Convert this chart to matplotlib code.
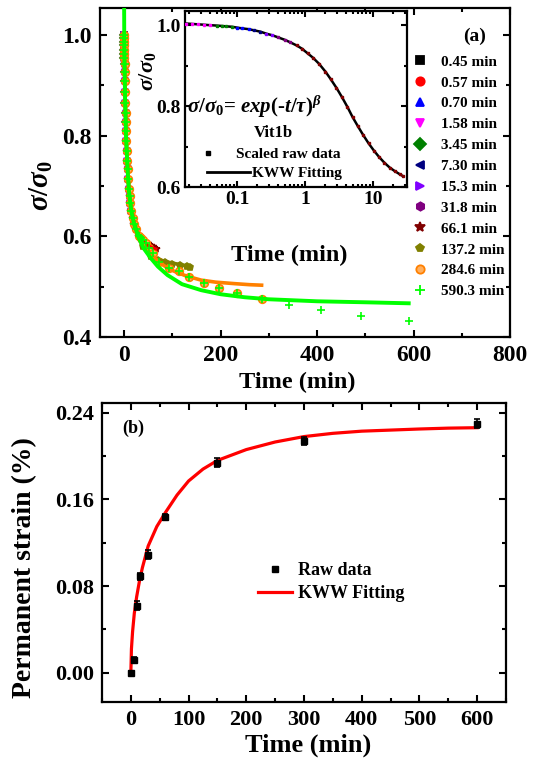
import matplotlib
matplotlib.use('Agg')
import matplotlib.pyplot as plt
from matplotlib.lines import Line2D
from matplotlib.ticker import MultipleLocator, LogLocator, NullFormatter

plt.rcParams['font.family'] = ['Liberation Serif', 'DejaVu Serif']
plt.rcParams['font.weight'] = 'bold'
plt.rcParams['mathtext.fontset'] = 'custom'
plt.rcParams['mathtext.rm'] = 'Liberation Serif:bold'
plt.rcParams['mathtext.it'] = 'Liberation Serif:bold:italic'
plt.rcParams['mathtext.bf'] = 'Liberation Serif:bold'
plt.rcParams['axes.linewidth'] = 1.6

# ---------------- data: panel (a) ----------------
series_labels = ['0.45 min', '0.57 min', '0.70 min', '1.58 min', '3.45 min', '7.30 min',
                 '15.3 min', '31.8 min', '66.1 min', '137.2 min', '284.6 min', '590.3 min']
series_durations = [0.45, 0.57, 0.70, 1.58, 3.45, 7.30, 15.3, 31.8, 66.1, 137.2, 284.6, 590.3]

# common early relaxation (min, sigma/sigma0)
early_t = [0, 0.1, 0.2, 0.3, 0.45, 0.57, 0.7, 0.9, 1.2, 1.58, 2.0, 2.5, 3.0, 3.45, 4.0, 4.7,
           5.5, 6.4, 7.3, 8.5, 10, 11.5, 13, 15.3, 18, 21, 25, 31.8]
early_y = [1.0, 0.994, 0.987, 0.98, 0.97, 0.962, 0.955, 0.943, 0.927, 0.908, 0.888, 0.866,
           0.845, 0.828, 0.81, 0.79, 0.77, 0.75, 0.733, 0.715, 0.695, 0.68, 0.667, 0.65,
           0.637, 0.625, 0.614, 0.60]

tail_661_t = [36, 41, 46, 51, 56, 61, 66]
tail_661_y = [0.595, 0.590, 0.586, 0.583, 0.580, 0.577, 0.575]
tail_1372_t = [40, 55, 70, 85, 100, 115, 130, 137]
tail_1372_y = [0.580, 0.562, 0.553, 0.549, 0.546, 0.543, 0.541, 0.540]
tail_2846_t = [35, 40, 45, 52, 60, 72, 93, 114, 134, 165, 196, 234, 286]
tail_2846_y = [0.597, 0.592, 0.586, 0.577, 0.566, 0.550, 0.538, 0.532, 0.520, 0.507, 0.497, 0.487, 0.475]
tail_5903_t = [35, 40, 45, 52, 60, 72, 93, 114, 134, 165, 196, 234, 286, 342, 409, 492, 590]
tail_5903_y = [0.597, 0.592, 0.586, 0.577, 0.566, 0.550, 0.538, 0.532, 0.520, 0.507, 0.497, 0.487,
               0.475, 0.4636, 0.4537, 0.4424, 0.432]

# KWW fits drawn in panel (a)
fit_661_t = [0, 2, 5, 10, 15, 20, 25, 30, 35, 41, 48, 55, 60, 66]
fit_661_y = [1.0, 0.885, 0.78, 0.695, 0.655, 0.632, 0.615, 0.604, 0.596, 0.589, 0.583, 0.579, 0.577, 0.575]
fit_1372_t = [0, 2, 5, 10, 15, 20, 30, 40, 50, 62, 75, 90, 105, 120, 138]
fit_1372_y = [1.0, 0.88, 0.775, 0.69, 0.65, 0.625, 0.598, 0.58, 0.567, 0.556, 0.553, 0.549, 0.546, 0.543, 0.540]
fit_2846_t = [0, 2, 5, 10, 15, 20, 30, 45, 60, 75, 90, 110, 130, 160, 190, 230, 260, 285]
fit_2846_y = [1.0, 0.88, 0.775, 0.69, 0.65, 0.627, 0.60, 0.575, 0.56, 0.547, 0.537, 0.528, 0.521,
              0.513, 0.509, 0.506, 0.504, 0.503]
fit_5903_t = [0, 0.3, 1, 2, 4, 7, 10, 15, 20, 30, 40, 55, 70, 90, 120, 160, 200, 250, 300, 400, 500, 590]
fit_5903_y = [1.08, 0.985, 0.93, 0.875, 0.80, 0.735, 0.69, 0.65, 0.628, 0.598, 0.577, 0.557, 0.54,
              0.523, 0.505, 0.493, 0.485, 0.479, 0.475, 0.471, 0.469, 0.467]

# inset: scaled data and KWW fit
inset_t = [0.018, 0.022, 0.027, 0.033, 0.04, 0.05, 0.06, 0.07, 0.085, 0.1, 0.12, 0.15, 0.18,
           0.22, 0.27, 0.33, 0.4, 0.5, 0.6, 0.75, 0.9, 1.1, 1.3, 1.6, 2.0, 2.4, 2.9, 3.5,
           4.2, 5.0, 6.0, 7.2, 8.6, 10.3, 12.3, 14.7, 17.6, 21, 25, 27.5]
inset_y = [1.004, 1.003, 1.002, 1.001, 1.0, 0.999, 0.998, 0.997, 0.996, 0.994, 0.992, 0.99,
           0.987, 0.984, 0.979, 0.975, 0.970, 0.964, 0.958, 0.950, 0.942, 0.930, 0.920,
           0.905, 0.885, 0.866, 0.845, 0.822, 0.798, 0.773, 0.750, 0.728, 0.708, 0.690,
           0.674, 0.660, 0.648, 0.639, 0.631, 0.627]
inset_group = [3, 3, 3, 3, 3, 4, 4, 4, 4, 2, 2, 2, 5, 5, 6, 6, 7, 7, 7, 8, 8, 8, 8, 8, 8, 8,
               8, 8, 8, 8, 8, 8, 8, 8, 8, 8, 8, 8, 8, 8]

# ---------------- data: panel (b) ----------------
strain_t = [0, 5, 10, 15, 30, 60, 150, 300, 600]
strain_y = [0.0, 0.012, 0.062, 0.089, 0.109, 0.144, 0.194, 0.214, 0.230]
strain_err = [0.002, 0.003, 0.004, 0.003, 0.004, 0.003, 0.004, 0.004, 0.004]
kww_t = [0, 1, 3, 6, 10, 15, 20, 30, 45, 60, 80, 100, 125, 150, 200, 250, 300, 350, 400,
         450, 500, 550, 600]
kww_y = [0.0, 0.022, 0.038, 0.055, 0.07, 0.085, 0.097, 0.117, 0.135, 0.148, 0.164, 0.177,
         0.188, 0.196, 0.206, 0.213, 0.218, 0.221, 0.223, 0.224, 0.225, 0.2258, 0.2262]

# ---------------- styles ----------------
colors = ['#000000', '#FF0000', '#0000FF', '#FF00FF', '#008000', '#000080',
          '#8000FF', '#800080', '#800000', '#808000', '#FF8000', '#00FF00']
markers = ['s', 'o', '^', 'v', 'D', '<', '>', 'h', '*', 'p', 'o', '+']
tails = {66.1: (tail_661_t, tail_661_y), 137.2: (tail_1372_t, tail_1372_y),
         284.6: (tail_2846_t, tail_2846_y), 590.3: (tail_5903_t, tail_5903_y)}

W, H = 536, 763
fig = plt.figure(figsize=(W / 100, H / 100), dpi=100)


def fr(l, t, r, b):
    return [l / W, 1 - b / H, (r - l) / W, (b - t) / H]


def style_ticks(ax, size, major=5, minor=3):
    ax.tick_params(which='both', direction='in', top=True, right=True, width=1.5)
    ax.tick_params(which='major', length=major, labelsize=size, pad=6)
    ax.tick_params(which='minor', length=minor)
    for lab in ax.get_xticklabels() + ax.get_yticklabels():
        lab.set_fontweight('bold')


# ---------------- panel (a) ----------------
ax = fig.add_axes(fr(100, 8, 510, 337))
ax.set_xlim(-50, 800)
ax.set_ylim(0.4, 1.054)

handles = []
for i, (lab, dur) in enumerate(zip(series_labels, series_durations)):
    t = [x for x in early_t if x <= dur]
    y = [v for x, v in zip(early_t, early_y) if x <= dur]
    if dur in tails:
        t = t + tails[dur][0]
        y = y + tails[dur][1]
    mfc = '#FFB060' if i == 10 else colors[i]
    ms = 6 if markers[i] in ('*', '+') else 4.5
    if i == 10:
        ms = 5.5
    z = 6 if i == 11 else 2
    ax.plot(t, y, ls='none', marker=markers[i], color=colors[i], mfc=mfc,
            mec=colors[i], ms=ms, mew=1.2, zorder=z)
    handles.append(Line2D([], [], ls='none', marker=markers[i], color=colors[i], mfc=mfc,
                          mec=colors[i], ms=7 if markers[i] in ('*', '+') else 6, mew=1.3,
                          label=lab))

ax.plot(fit_661_t, fit_661_y, color='#FF0000', lw=2.2, zorder=4)
ax.plot(fit_1372_t, fit_1372_y, color='#808000', lw=2.6, zorder=4)
ax.plot(fit_2846_t, fit_2846_y, color='#FF8000', lw=2.6, zorder=4)
ax.plot(fit_5903_t, fit_5903_y, color='#00FF00', lw=2.8, zorder=5)

ax.xaxis.set_major_locator(MultipleLocator(200))
ax.xaxis.set_minor_locator(MultipleLocator(100))
ax.yaxis.set_major_locator(MultipleLocator(0.2))
ax.yaxis.set_minor_locator(MultipleLocator(0.1))
ax.set_yticks([0.4, 0.6, 0.8, 1.0], labels=['0.4', '0.6', '0.8', '1.0'])
style_ticks(ax, 17)
ax.set_xlabel('Time (min)', fontsize=17.5, fontweight='bold')
ax.xaxis.set_label_coords(0.48, -0.105)
ax.set_ylabel(r'$\sigma/\sigma_0$', fontsize=21)
ax.yaxis.set_label_coords(-0.11, 0.46)

leg = ax.legend(handles=handles, loc='upper left', bbox_to_anchor=((412 - 100) / 410, (337 - 55) / 329),
                frameon=False, fontsize=11, handlelength=1.0, handletextpad=0.9,
                labelspacing=0.47, borderpad=0, borderaxespad=0)
for txt in leg.get_texts():
    txt.set_fontweight('bold')

fig.text(475 / W, 1 - 36 / H, '(a)', fontsize=14, fontweight='bold', ha='center', va='center')

# ---------------- inset ----------------
ai = fig.add_axes(fr(185, 11, 407, 187))
ai.set_xscale('log')
ai.set_xlim(0.0172, 31.6)
ai.set_ylim(0.6, 1.035)
ai.plot(inset_t, inset_y, color='#000000', lw=1.8, zorder=2)
for g in sorted(set(inset_group)):
    tt = [x for x, k in zip(inset_t, inset_group) if k == g]
    yy = [v for v, k in zip(inset_y, inset_group) if k == g]
    ai.plot(tt, yy, ls='none', marker='s', ms=2, color=colors[g], zorder=3)
ai.set_xticks([0.1, 1, 10], labels=['0.1', '1', '10'])
ai.xaxis.set_minor_locator(LogLocator(base=10, subs=range(2, 10)))
ai.xaxis.set_minor_formatter(NullFormatter())
ai.set_yticks([0.6, 0.8, 1.0], labels=['0.6', '0.8', '1.0'])
ai.yaxis.set_minor_locator(MultipleLocator(0.1))
style_ticks(ai, 14, major=4, minor=2.5)
ai.tick_params(which='major', pad=3)
ai.set_xlabel('Time (min)', fontsize=17.5, fontweight='bold')
ai.xaxis.set_label_coords(0.47, -0.33)
ai.set_ylabel(r'$\sigma/\sigma_0$', fontsize=16)
ai.yaxis.set_label_coords(-0.12, 0.66)

ai.text(0.01, 0.455, r'$\sigma/\sigma_0$= $exp$(-$t/\tau)^\beta$', transform=ai.transAxes,
        fontsize=15, fontweight='bold', ha='left', va='center', zorder=10)
ai.text(0.40, 0.305, 'Vit1b', transform=ai.transAxes, fontsize=12, fontweight='bold',
        ha='center', va='center')
lg1 = ai.legend(handles=[Line2D([], [], ls='none', marker='s', ms=3.5, color='#000000',
                                label='Scaled raw data')],
                loc='upper left', bbox_to_anchor=(0.07, 0.225), frameon=False, fontsize=11,
                handlelength=1.0, handletextpad=1.3, borderpad=0, borderaxespad=0)
for txt in lg1.get_texts():
    txt.set_fontweight('bold')
ai.add_artist(lg1)
lg2 = ai.legend(handles=[Line2D([], [], color='#000000', lw=2, label='KWW Fitting')],
                loc='upper left', bbox_to_anchor=(0.1, 0.115), frameon=False, fontsize=11,
                handlelength=2.8, handletextpad=0.1, borderpad=0, borderaxespad=0)
for txt in lg2.get_texts():
    txt.set_fontweight('bold')

# ---------------- panel (b) ----------------
ab = fig.add_axes(fr(102, 403, 506, 702))
ab.set_xlim(-50, 650)
ab.set_ylim(-0.027, 0.249)
ab.plot(kww_t, kww_y, color='#FF0000', lw=2.3, zorder=2)
ab.errorbar(strain_t, strain_y, yerr=strain_err, fmt='s', color='#000000', ms=4.5,
            capsize=2.5, elinewidth=1.2, capthick=1.2, zorder=3)
ab.xaxis.set_major_locator(MultipleLocator(100))
ab.xaxis.set_minor_locator(MultipleLocator(50))
ab.set_yticks([0.0, 0.08, 0.16, 0.24], labels=['0.00', '0.08', '0.16', '0.24'])
ab.yaxis.set_minor_locator(MultipleLocator(0.04))
style_ticks(ab, 16)
ab.set_xlabel('Time (min)', fontsize=19, fontweight='bold')
ab.xaxis.set_label_coords(0.51, -0.105)
ab.set_ylabel('Permanent strain (%)', fontsize=20, fontweight='bold')
ab.yaxis.set_label_coords(-0.16, 0.45)
hb = [Line2D([], [], ls='none', marker='s', ms=4.5, color='#000000', label='Raw data'),
      Line2D([], [], color='#FF0000', lw=2.3, label='KWW Fitting')]
lgb = ab.legend(handles=hb, loc='upper left',
                bbox_to_anchor=((258 - 102) / 404, (702 - 562) / 299), frameon=False,
                fontsize=13, handlelength=1.9, handletextpad=0.3, labelspacing=0.35,
                borderpad=0, borderaxespad=0)
for txt in lgb.get_texts():
    txt.set_fontweight('bold')
ab.text((133 - 102) / 404, (702 - 428) / 299, '(b)', transform=ab.transAxes,
        fontsize=13, fontweight='bold', ha='center', va='center')

fig.savefig('out.png', dpi=100)
